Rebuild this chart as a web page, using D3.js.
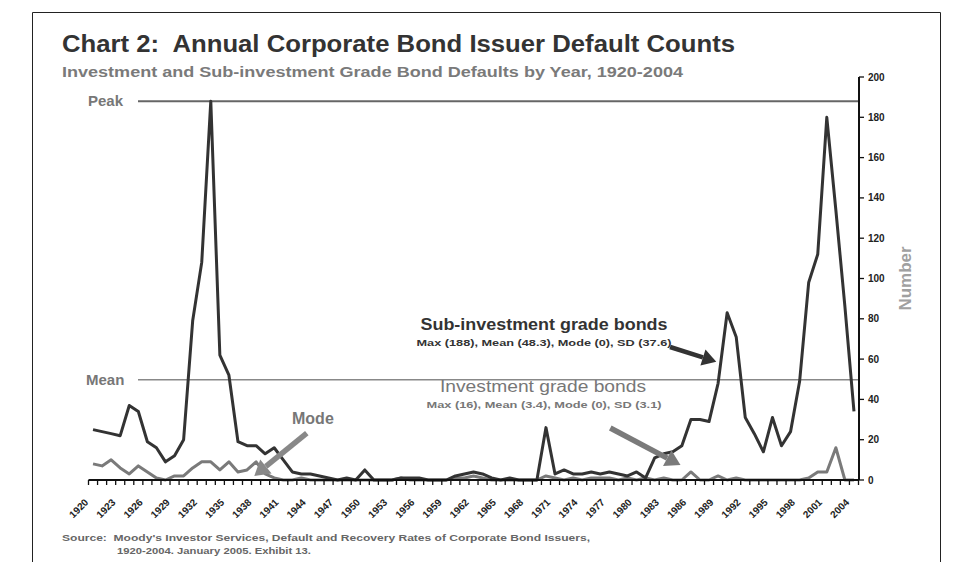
<!DOCTYPE html>
<html><head><meta charset="utf-8">
<script src="https://cdn.jsdelivr.net/npm/d3@7"></script>
<style>
html,body{margin:0;padding:0;background:#fff;}
svg{display:block;font-family:"Liberation Sans",Arial,sans-serif;}
text{white-space:pre;}
</style></head>
<body>
<svg id="c" width="957" height="562"></svg>
<script>
// ---- data ----
const years = d3.range(1920, 2005);
const subInvestment = [25,24,23,22,37,34,19,16,9,12,20,79,108,188,62,52,19,17,17,13,16,10,4,3,3,2,1,0,1,0,5,0,0,0,1,1,1,0,0,0,2,3,4,3,1,0,1,0,0,0,26,3,5,3,3,4,3,4,3,2,4,1,11,13,14,17,30,30,29,48,83,71,31,23,14,31,17,24,49,98,112,180,134,86,34];
const investment = [8,7,10,6,3,7,4,1,0,2,2,6,9,9,5,9,4,5,9,3,1,0,0,1,0,0,0,0,0,0,0,0,0,0,1,0,0,0,0,0,1,1,2,1,0,0,0,0,0,0,2,1,0,1,0,1,1,1,0,1,0,1,0,1,0,0,4,0,0,2,0,1,0,0,0,0,0,0,0,1,4,4,16,0,0];
const yTicks = [0,20,40,60,80,100,120,140,160,180,200];
const labelYears = years.filter(y => (y - 1920) % 3 === 0);
const peakValue = 188;
const meanValue = 49.8;
const titleText = "Chart 2:  Annual Corporate Bond Issuer Default Counts";
const subtitleText = "Investment and Sub-investment Grade Bond Defaults by Year, 1920-2004";
const sourceLines = ["Source:  Moody's Investor Services, Default and Recovery Rates of Corporate Bond Issuers,", "1920-2004. January 2005. Exhibit 13."];
const subLabel = ["Sub-investment grade bonds", "Max (188), Mean (48.3), Mode (0), SD (37.6)"];
const invLabel = ["Investment grade bonds", "Max (16), Mean (3.4), Mode (0), SD (3.1)"];

// ---- layout ----
const svg = d3.select("#c");
const x = d3.scaleBand().domain(years).range([88.5, 858.5]).padding(0);
const cx = yr => x(yr) + x.bandwidth() / 2;
const xc = d3.scaleLinear().domain([1920, 2004]).range([cx(1920), cx(2004)]);
const y = d3.scaleLinear().domain([0, 200]).range([480, 77]);
const axisX = 859;

// frame
svg.append("path").attr("d", "M32.5,570V12.5H940.5V570").attr("fill", "none").attr("stroke", "#222").attr("stroke-width", 1);

// title
svg.append("text").attr("x", 62).attr("y", 52).attr("font-size", 23).attr("font-weight", "bold")
  .attr("fill", "#333").attr("textLength", 673).attr("lengthAdjust", "spacingAndGlyphs").text(titleText);
svg.append("text").attr("x", 62).attr("y", 77).attr("font-size", 14).attr("font-weight", "bold")
  .attr("fill", "#7a7a7a").attr("textLength", 621).attr("lengthAdjust", "spacingAndGlyphs").text(subtitleText);

// peak & mean lines
svg.append("line").attr("x1", 138).attr("x2", axisX).attr("y1", y(peakValue)).attr("y2", y(peakValue))
  .attr("stroke", "#666").attr("stroke-width", 2);
svg.append("line").attr("x1", 138).attr("x2", axisX).attr("y1", y(meanValue)).attr("y2", y(meanValue))
  .attr("stroke", "#888").attr("stroke-width", 1.5);
svg.append("text").attr("x", 88).attr("y", y(peakValue) + 5).attr("font-size", 15).attr("font-weight", "bold").attr("fill", "#777").text("Peak");
svg.append("text").attr("x", 86).attr("y", y(meanValue) + 5).attr("font-size", 15).attr("font-weight", "bold").attr("fill", "#777").text("Mean");

// lines
const line = d3.line().x((d, i) => cx(years[i])).y(d => y(d)).curve(d3.curveLinear);
svg.append("path").datum(investment).attr("d", line).attr("fill", "none").attr("stroke", "#7a7a7a").attr("stroke-width", 3).attr("stroke-linejoin", "round");
svg.append("path").datum(subInvestment).attr("d", line).attr("fill", "none").attr("stroke", "#333").attr("stroke-width", 3).attr("stroke-linejoin", "round");

// x axis
const gx = svg.append("g").attr("transform", `translate(0,${y(0)})`);
gx.append("line").attr("x1", 88.5).attr("x2", axisX).attr("stroke", "#111").attr("stroke-width", 2);
gx.selectAll("line.t").data(years.concat([2005])).join("line").attr("class", "t")
  .attr("x1", d => d === 2005 ? 858.5 : x(d)).attr("x2", d => d === 2005 ? 858.5 : x(d))
  .attr("y1", 0).attr("y2", 5).attr("stroke", "#111").attr("stroke-width", 1.3);
gx.selectAll("text").data(labelYears).join("text")
  .attr("transform", d => `translate(${cx(d) - 4},${23}) rotate(-45)`)
  .attr("text-anchor", "end").attr("font-size", 10).attr("font-weight", "bold").attr("fill", "#222").text(d => d);

// right y axis
const gy = svg.append("g").attr("transform", `translate(${axisX},0)`);
gy.append("line").attr("y1", y(200)).attr("y2", y(0)).attr("stroke", "#111").attr("stroke-width", 2);
gy.selectAll("line.t").data(yTicks).join("line").attr("class", "t")
  .attr("x1", 0).attr("x2", 5).attr("y1", d => y(d)).attr("y2", d => y(d)).attr("stroke", "#111").attr("stroke-width", 1.3);
gy.selectAll("text").data(yTicks).join("text").attr("x", 9).attr("y", d => y(d) + 3.5)
  .attr("font-size", 10).attr("font-weight", "bold").attr("fill", "#222").text(d => d);
svg.append("text").attr("transform", `translate(911,${y(100)}) rotate(-90)`).attr("text-anchor", "middle")
  .attr("font-size", 17).attr("font-weight", "bold").attr("fill", "#a0a0a0").text("Number");

// arrows
function arrow(x1, y1, x2, y2, color, w, head) {
  const ang = Math.atan2(y2 - y1, x2 - x1);
  const bx = x2 - head * Math.cos(ang), by = y2 - head * Math.sin(ang);
  svg.append("line").attr("x1", x1).attr("y1", y1).attr("x2", bx).attr("y2", by).attr("stroke", color).attr("stroke-width", w);
  const hw = head * 0.6;
  const px = -Math.sin(ang) * hw, py = Math.cos(ang) * hw;
  svg.append("path").attr("d", `M${x2},${y2}L${bx + px},${by + py}L${bx - px},${by - py}Z`).attr("fill", color);
}
arrow(xc(1943.6), y(23.3), xc(1937.8), y(2), "#888", 5.5, 15);
arrow(xc(1983.7), y(66), xc(1988.8), y(58.7), "#333", 4.5, 14);
arrow(xc(1977.1), y(25.8), xc(1984.85), y(7.4), "#7a7a7a", 5.5, 15);

// annotation texts
svg.append("text").attr("x", 292).attr("y", 424).attr("font-size", 16).attr("font-weight", "bold").attr("fill", "#777").text("Mode");
svg.append("text").attr("x", 544).attr("y", 330).attr("text-anchor", "middle").attr("font-size", 16).attr("font-weight", "bold")
  .attr("fill", "#333").attr("textLength", 247).attr("lengthAdjust", "spacingAndGlyphs").text(subLabel[0]);
svg.append("text").attr("x", 544).attr("y", 346).attr("text-anchor", "middle").attr("font-size", 9.5).attr("font-weight", "bold")
  .attr("fill", "#333").attr("textLength", 255).attr("lengthAdjust", "spacingAndGlyphs").text(subLabel[1]);
svg.append("text").attr("x", 543).attr("y", 392).attr("text-anchor", "middle").attr("font-size", 16)
  .attr("fill", "#777").attr("textLength", 206).attr("lengthAdjust", "spacingAndGlyphs").text(invLabel[0]);
svg.append("text").attr("x", 544).attr("y", 408).attr("text-anchor", "middle").attr("font-size", 9.5).attr("font-weight", "bold")
  .attr("fill", "#777").attr("textLength", 235).attr("lengthAdjust", "spacingAndGlyphs").text(invLabel[1]);

// source
svg.append("text").attr("x", 62).attr("y", 541).attr("font-size", 9.5).attr("font-weight", "bold").attr("fill", "#666")
  .attr("textLength", 528).attr("lengthAdjust", "spacingAndGlyphs").text(sourceLines[0]);
svg.append("text").attr("x", 117).attr("y", 554).attr("font-size", 9.5).attr("font-weight", "bold").attr("fill", "#666")
  .attr("textLength", 194).attr("lengthAdjust", "spacingAndGlyphs").text(sourceLines[1]);
</script>
</body></html>
